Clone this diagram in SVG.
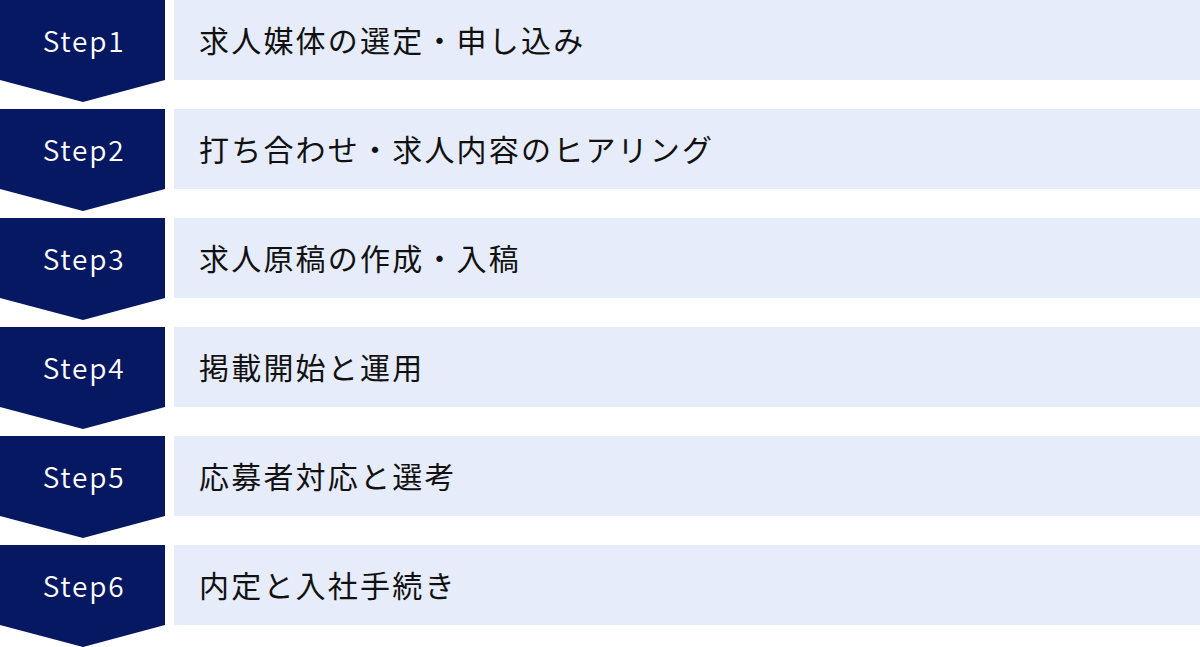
<svg xmlns="http://www.w3.org/2000/svg" width="1200" height="647" viewBox="0 0 1200 647">
<style>
.chev{fill:#061862}
.bar{fill:#e6ecf9}
.st{font-family:"Noto Sans CJK JP","Noto Sans",sans-serif;font-size:28px;font-weight:350;fill:#ffffff;text-anchor:middle;letter-spacing:1.8px}
.lb{font-family:"Noto Sans CJK JP",sans-serif;font-size:30px;fill:#111111;letter-spacing:2.2px}
</style>
<rect width="1200" height="647" fill="#ffffff"/>
<defs>
<path id="chev" d="M0,0 H165 V80 L83,102 L0,80 Z"/>
</defs>
<g id="step1" transform="translate(0,0)"><use href="#chev" class="chev"/><rect class="bar" x="174" y="0" width="1026" height="80"/><text class="st" x="84" y="52">Step1</text><text class="lb" x="199" y="52">求人媒体の選定・申し込み</text></g>
<g id="step2" transform="translate(0,109)"><use href="#chev" class="chev"/><rect class="bar" x="174" y="0" width="1026" height="80"/><text class="st" x="84" y="52">Step2</text><text class="lb" x="199" y="52">打ち合わせ・求人内容のヒアリング</text></g>
<g id="step3" transform="translate(0,218)"><use href="#chev" class="chev"/><rect class="bar" x="174" y="0" width="1026" height="80"/><text class="st" x="84" y="52">Step3</text><text class="lb" x="199" y="52">求人原稿の作成・入稿</text></g>
<g id="step4" transform="translate(0,327)"><use href="#chev" class="chev"/><rect class="bar" x="174" y="0" width="1026" height="80"/><text class="st" x="84" y="52">Step4</text><text class="lb" x="199" y="52">掲載開始と運用</text></g>
<g id="step5" transform="translate(0,436)"><use href="#chev" class="chev"/><rect class="bar" x="174" y="0" width="1026" height="80"/><text class="st" x="84" y="52">Step5</text><text class="lb" x="199" y="52">応募者対応と選考</text></g>
<g id="step6" transform="translate(0,545)"><use href="#chev" class="chev"/><rect class="bar" x="174" y="0" width="1026" height="80"/><text class="st" x="84" y="52">Step6</text><text class="lb" x="199" y="52">内定と入社手続き</text></g>
<g id="connectors"></g>
</svg>
